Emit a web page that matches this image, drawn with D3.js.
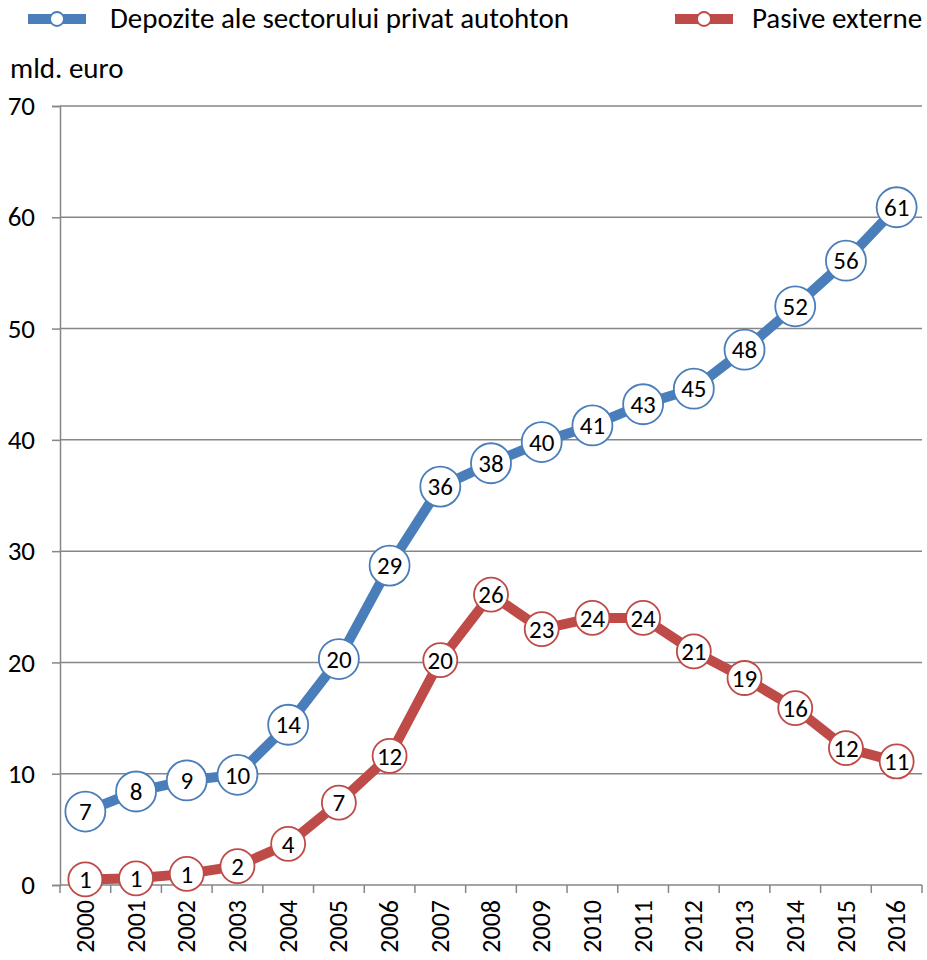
<!DOCTYPE html>
<html>
<head>
<meta charset="utf-8">
<script src="https://cdn.jsdelivr.net/npm/d3@7"></script>
<style>
  body { margin: 0; background: #fff; }
  text { font-family: Carlito, "Liberation Sans Narrow", "Open Sans", sans-serif; fill: #000; }
</style>
</head>
<body>
<svg id="chart" width="927" height="960"></svg>
<script>
var years = ['2000','2001','2002','2003','2004','2005','2006','2007','2008','2009','2010','2011','2012','2013','2014','2015','2016']
var depozite = [6.6, 8.4, 9.4, 9.9, 14.4, 20.3, 28.7, 35.8, 37.9, 39.8, 41.3, 43.2, 44.6, 48.1, 52.0, 56.1, 60.9]
var pasive = [0.5, 0.6, 1.0, 1.7, 3.7, 7.4, 11.6, 20.2, 26.1, 23.0, 24.0, 24.0, 21.0, 18.6, 15.9, 12.3, 11.1]
var yTicks = [0, 10, 20, 30, 40, 50, 60, 70]
var seriesNames = ['Depozite ale sectorului privat autohton', 'Pasive externe']

var colors = ['#4a7ebb', '#be4b48']
var svg = d3.select('#chart')
var margin = {left: 60, right: 5, top: 106, bottom: 75}
var width = 927 - margin.left - margin.right
var height = 960 - margin.top - margin.bottom

var x = d3.scaleBand().domain(years).range([0, width])
var y = d3.scaleLinear().domain([0, 70]).range([height, 0])

var g = svg.append('g').attr('transform', 'translate(' + margin.left + ',' + margin.top + ')')

// gridlines
g.selectAll('line.grid')
  .data(yTicks.slice(1))
  .enter().append('line')
  .attr('x1', 0).attr('x2', width)
  .attr('y1', function (d) { return y(d) })
  .attr('y2', function (d) { return y(d) })
  .attr('stroke', '#868686')
  .attr('stroke-width', 1.5)

// y axis
var yAxis = g.append('g').call(d3.axisLeft(y).tickValues(yTicks).tickSize(8).tickPadding(17))
yAxis.select('.domain').attr('stroke', '#868686').attr('stroke-width', 1.5)
yAxis.selectAll('.tick line').attr('stroke', '#868686').attr('stroke-width', 1.5)
yAxis.selectAll('.tick text').attr('font-size', 27).attr('fill', '#000')
  .style('font-family', 'Carlito, "Liberation Sans Narrow", "Open Sans", sans-serif')

// x axis, ticks between the categories
var xAxis = g.append('g').attr('transform', 'translate(0,' + height + ')')
xAxis.append('line').attr('x1', 0).attr('x2', width).attr('stroke', '#868686').attr('stroke-width', 1.5)
xAxis.selectAll('line.tk')
  .data(years.concat(['end']))
  .enter().append('line')
  .attr('x1', function (d, i) { return i * x.step() })
  .attr('x2', function (d, i) { return i * x.step() })
  .attr('y1', 0).attr('y2', 8)
  .attr('stroke', '#868686').attr('stroke-width', 1.5)
xAxis.selectAll('text')
  .data(years)
  .enter().append('text')
  .attr('transform', function (d) { return 'translate(' + (x(d) + x.bandwidth() / 2) + ',15) rotate(-90)' })
  .attr('text-anchor', 'end')
  .attr('dy', '0.33em')
  .attr('font-size', 26)
  .text(function (d) { return d })

var line = d3.line()
  .x(function (d, i) { return x(years[i]) + x.bandwidth() / 2 })
  .y(function (d) { return y(d) })

var series = [depozite, pasive]
var radii = [20, 17]
series.forEach(function (vals, s) {
  g.append('path')
    .datum(vals)
    .attr('d', line)
    .attr('fill', 'none')
    .attr('stroke', colors[s])
    .attr('stroke-width', 10)
    .attr('stroke-linejoin', 'round')

  var pts = g.selectAll('g.pt' + s)
    .data(vals)
    .enter().append('g')
    .attr('transform', function (d, i) { return 'translate(' + (x(years[i]) + x.bandwidth() / 2) + ',' + y(d) + ')' })
  pts.append('circle')
    .attr('r', radii[s])
    .attr('fill', '#fff')
    .attr('stroke', colors[s])
    .attr('stroke-width', 1.8)
  pts.append('text')
    .attr('text-anchor', 'middle')
    .attr('dy', '0.35em')
    .attr('font-size', 25)
    .text(function (d) { return Math.round(d) })
})

// legend
var legX = [28, 675]
var legText = [110, 752]
seriesNames.forEach(function (name, s) {
  var lg = svg.append('g').attr('transform', 'translate(' + legX[s] + ',19)')
  lg.append('line').attr('x1', 0).attr('x2', 58).attr('stroke', colors[s]).attr('stroke-width', 10)
  lg.append('circle').attr('cx', 29).attr('r', 7).attr('fill', '#fff').attr('stroke', colors[s]).attr('stroke-width', 1.8)
  svg.append('text').attr('x', legText[s]).attr('y', 28).attr('font-size', 29).text(name)
})

svg.append('text').attr('x', 10).attr('y', 78).attr('font-size', 29).text('mld. euro')
</script>
</body>
</html>
